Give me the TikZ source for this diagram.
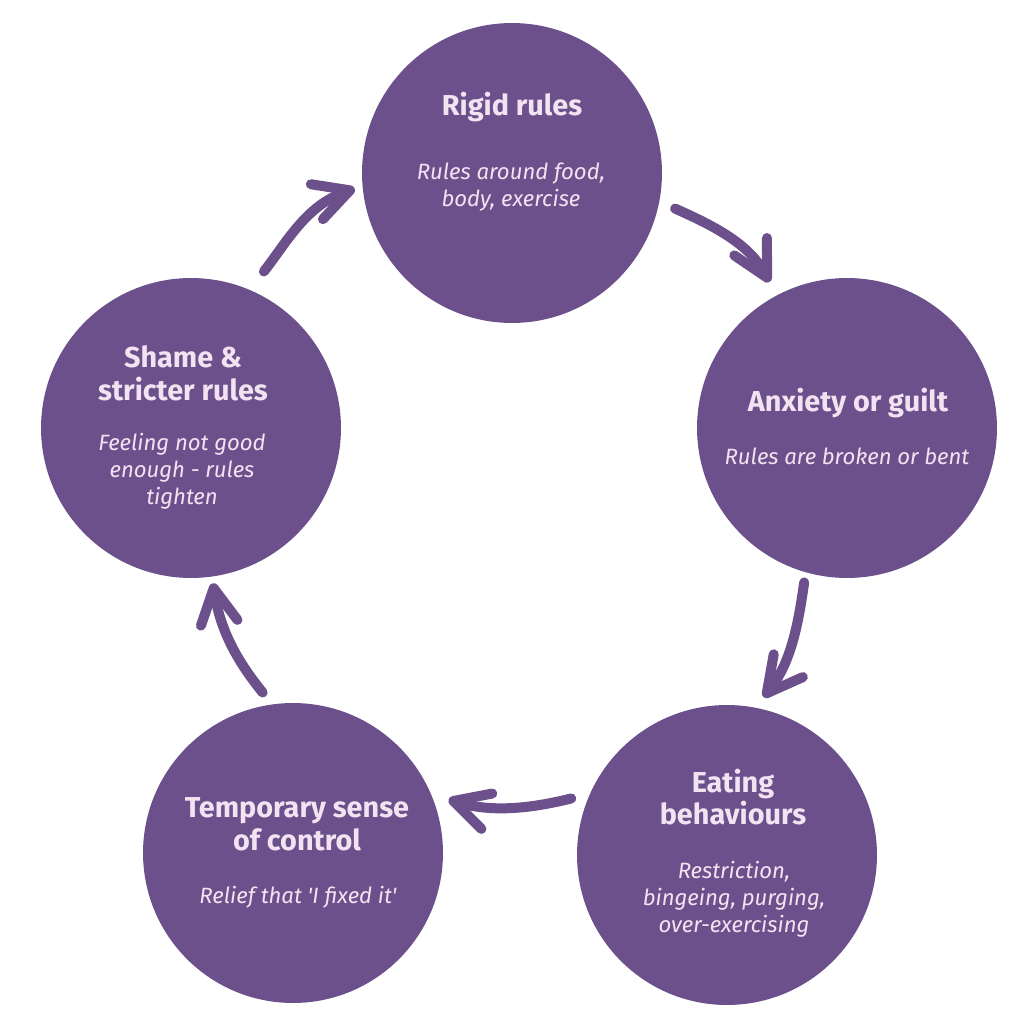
\documentclass[tikz,border=0pt]{standalone}
\usepackage{fontspec}
\setmainfont{Fira Sans}
\usepackage{tikz}
\usetikzlibrary{arrows.meta}
\definecolor{cyclepurple}{RGB}{108,80,139}
\definecolor{cyclepink}{RGB}{242,227,242}
\tikzset{phase/.style={circle, fill=cyclepurple, minimum size=6cm, inner sep=0pt},
         phasetitle/.style={align=center, text=cyclepink, font=\fontsize{16.4}{18.7}\selectfont\bfseries},
         phasedesc/.style={align=center, text=cyclepink, font=\fontsize{12.6}{15.3}\selectfont\itshape},
         cyclearrow/.style={draw=cyclepurple, line width=0.2cm, line cap=round,
                            -{Straight Barb[length=0.7cm, width=0.74cm, round]}}}

\begin{document}
\begin{tikzpicture}[x=0.02cm, y=-0.02cm]
    \useasboundingbox (0,0) rectangle (1024,1024);
    % the five phases of the cycle
    \node[phase] (rigid) at (512,173) {};
    \node[phase] (anxiety) at (847,428) {};
    \node[phase] (eating) at (727,855) {};
    \node[phase] (control) at (293,853) {};
    \node[phase] (shame) at (191,428) {};
    % texts
    \node[phasetitle] (rigid-t) at (512,107) {Rigid rules};
    \node[phasedesc] (rigid-d) at (511,187) {Rules around food,\\body, exercise};
    \node[phasetitle] (anxiety-t) at (848,403) {Anxiety or guilt};
    \node[phasedesc] (anxiety-d) at (847,456) {Rules are broken or bent};
    \node[phasetitle] (eating-t) at (733,797) {Eating\\behaviours};
    \node[phasedesc] (eating-d) at (734,899) {Restriction,\\bingeing, purging,\\over-exercising};
    \node[phasetitle] (control-t) at (297,824) {Temporary sense\\of control};
    \node[phasedesc] (control-d) at (298,897) {Relief that \textquotesingle I fixed it\textquotesingle};
    \node[phasetitle] (shame-t) at (183,373) {Shame \&\\stricter rules};
    \node[phasedesc] (shame-d) at (182,471) {Feeling not good\\enough - rules\\tighten};
    % arrows round the cycle
    \draw[cyclearrow, shorten <=0.34cm, shorten >=0.3cm] (rigid.-11) to[out=-24, in=118] (anxiety.118);
    \draw[cyclearrow, shorten <=0.2cm, shorten >=0.26cm] (anxiety.254) to[out=262, in=52] (eating.79);
    \draw[cyclearrow, shorten <=0.38cm, shorten >=0.36cm] (eating.156) to[out=194, in=-17] (control.23);
    \draw[cyclearrow, shorten <=0.3cm, shorten >=0.13cm] (control.98) to[out=129, in=-81] (shame.-82);
    \draw[cyclearrow, shorten <=0.46cm, shorten >=0.16cm] (shame.67) to[out=52, in=199] (rigid.185);
\end{tikzpicture}
\end{document}
